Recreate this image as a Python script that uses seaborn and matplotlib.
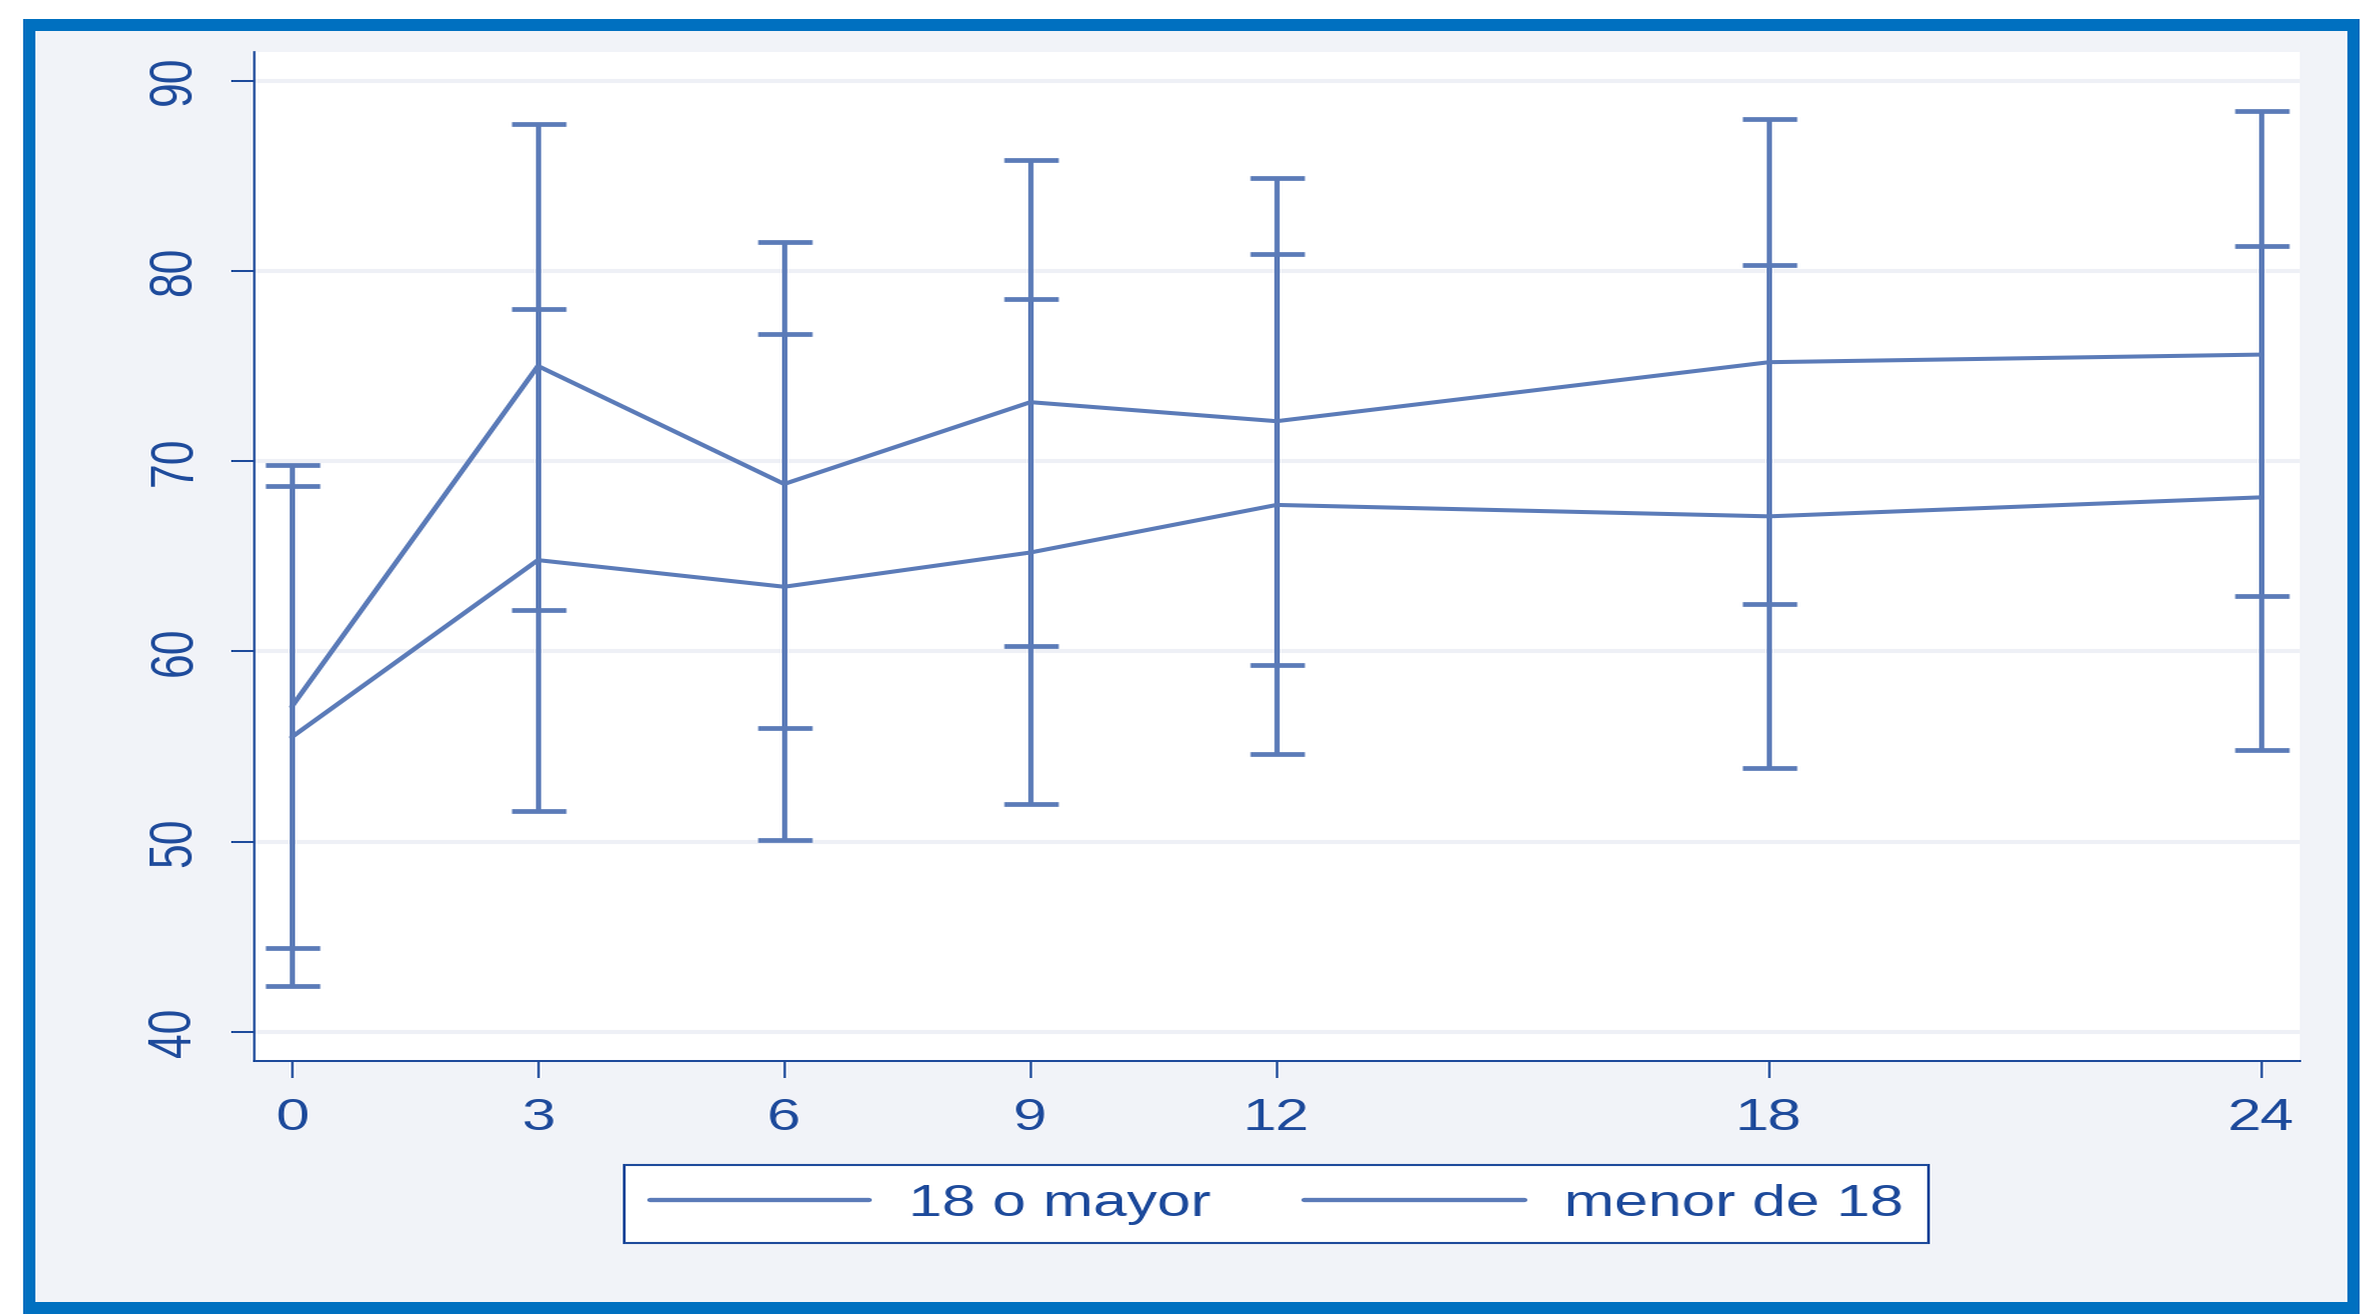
import io
import numpy as np
import pandas as pd
import matplotlib
matplotlib.use("Agg")
import matplotlib.pyplot as plt
from matplotlib.patches import Rectangle
from matplotlib.lines import Line2D
import seaborn as sns
from PIL import Image

# Mean score with 95% confidence limits by follow-up month, per age group
months = [0, 3, 6, 9, 12, 18, 24]
groups = ["18 o mayor", "menor de 18"]

mean_adult = [57.1, 75.0, 68.8, 73.1, 72.1, 75.2, 75.6]
low_adult = [44.4, 62.2, 56.0, 60.3, 59.3, 62.5, 62.9]
high_adult = [69.8, 87.7, 81.5, 85.8, 84.9, 88.0, 88.4]

mean_minor = [55.5, 64.8, 63.4, 65.2, 67.7, 67.1, 68.1]
low_minor = [42.4, 51.6, 50.1, 52.0, 54.6, 53.9, 54.8]
high_minor = [68.7, 78.0, 76.7, 78.5, 80.9, 80.3, 81.3]

x_ticks = [0, 3, 6, 9, 12, 18, 24]
y_ticks = [40, 50, 60, 70, 80, 90]

LINE = "#5b7bb8"
INK = "#1d4a9b"
BG = "#f1f3f8"
GRID = "#eef0f6"
FRAME = "#0070c0"

# final image size and the wide pixel aspect of the exported graph
OUT_W, OUT_H = 2361, 1315
DRAW_W = 1736

sns.set_style("white")
plt.rcParams["font.family"] = ["Liberation Sans", "DejaVu Sans"]

df = pd.DataFrame({
    "mes": months * 2,
    "valor": mean_adult + mean_minor,
    "grupo": [groups[0]] * len(months) + [groups[1]] * len(months),
})

fig = plt.figure(figsize=(DRAW_W / 100, OUT_H / 100), dpi=100, facecolor="white")

# outer panel with a blue border
def fig_rect(x0, y0, x1, y1, color, z):
    fig.add_artist(Rectangle((x0 / OUT_W, 1 - y1 / OUT_H), (x1 - x0) / OUT_W, (y1 - y0) / OUT_H,
                             transform=fig.transFigure, facecolor=color, edgecolor="none",
                             zorder=z))

fig_rect(23, 19, 2360, 1314, BG, -6)
fig_rect(23, 19, 35, 1314, FRAME, -5)
fig_rect(2348, 19, 2360, 1314, FRAME, -5)
fig_rect(23, 19, 2360, 31, FRAME, -5)
fig_rect(23, 1302, 2360, 1314, FRAME, -5)

ax = fig.add_axes([254 / OUT_W, 1 - 1061 / OUT_H, (2300 - 254) / OUT_W, (1061 - 52) / OUT_H])
ax.set_facecolor("white")

sns.lineplot(data=df, x="mes", y="valor", hue="grupo", palette=[LINE, LINE],
             linewidth=2.9, legend=False, ax=ax, zorder=3)

for mean, low, high in [(mean_adult, low_adult, high_adult), (mean_minor, low_minor, high_minor)]:
    m = np.array(mean)
    err = [m - np.array(low), np.array(high) - m]
    ax.errorbar(months, m, yerr=err, fmt="none", ecolor=LINE, elinewidth=2.7,
                capsize=14.3, capthick=3.4, zorder=3)

ax.set_xlim(-0.46, 24.47)
ax.set_ylim(38.48, 91.5)
ax.set_xticks(x_ticks)
ax.set_yticks(y_ticks)
ax.set_xlabel("")
ax.set_ylabel("")

ax.yaxis.grid(True, color=GRID, linewidth=2.9)
ax.xaxis.grid(False)
ax.set_axisbelow(True)

for side in ["top", "right"]:
    ax.spines[side].set_visible(False)
ax.spines["left"].set_color(INK)
ax.spines["left"].set_linewidth(1.2)
ax.spines["bottom"].set_color(INK)
ax.spines["bottom"].set_linewidth(1.45)

ax.tick_params(axis="y", direction="out", length=12.2, width=1.45, color=INK,
               labelcolor=INK, labelsize=32, pad=14.8, labelrotation=90, left=True)
ax.tick_params(axis="x", direction="out", length=12.5, width=1.2, color=INK,
               labelcolor=INK, labelsize=32, pad=14.4, bottom=True)
for lab in ax.get_yticklabels():
    lab.set_va("center")

handles = [Line2D([], [], color=LINE, linewidth=3.1) for _ in groups]
leg = fig.legend(handles, groups, loc="center", bbox_to_anchor=(0.5405, 0.0844),
                 ncol=2, fontsize=32, frameon=True, fancybox=False, framealpha=1,
                 facecolor="white", edgecolor=INK, handlelength=3.64,
                 handletextpad=0.65, columnspacing=1.54, borderpad=0.42,
                 borderaxespad=0)
leg.get_frame().set_linewidth(1.5)
for t in leg.get_texts():
    t.set_color(INK)

# render, then widen to the final pixel aspect
buf = io.BytesIO()
fig.savefig(buf, format="png", dpi=100, facecolor="white")
buf.seek(0)
img = Image.open(buf).convert("RGB")
img = img.resize((OUT_W, OUT_H), Image.LANCZOS)
img.save("out.png")
